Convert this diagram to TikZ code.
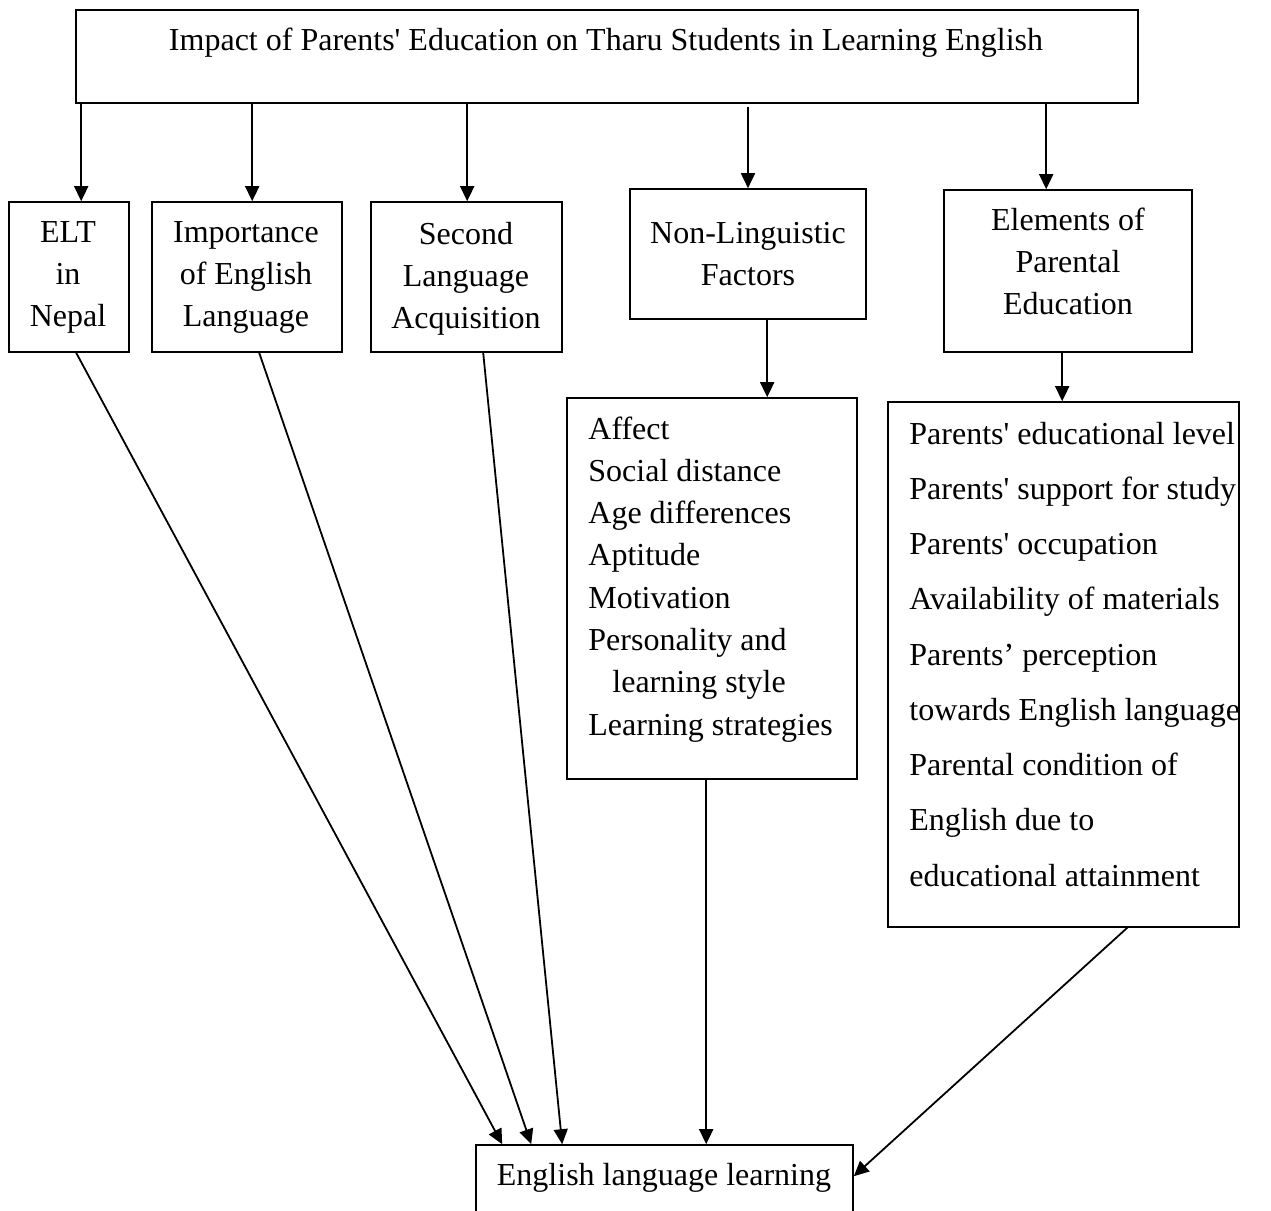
\documentclass[tikz,border=0pt]{standalone}
\usepackage{fontspec}
\setmainfont{Liberation Serif}[Ligatures=TeXOff]
\usetikzlibrary{arrows.meta,fit}
\begin{document}
\begin{tikzpicture}[x=0.5pt,y=-0.5pt,
  box/.style={draw, line width=0.8pt, inner sep=0pt},
  txt/.style={inner sep=0pt, align=center, font=\fontsize{16}{21}\selectfont},
  ltxt/.style={inner sep=0pt, anchor=base west, font=\fontsize{16}{21}\selectfont},
  arr/.style={-{Triangle[length=7.5pt,width=7pt]}, line width=0.9pt}]
\useasboundingbox (0,0) rectangle (1271,1211);
\fill[white] (0,0) rectangle (1271,1211);
\clip (0,0) rectangle (1271,1211);

% boxes
\node[box, fit={(76,10) (1138,103)}] (top) {};
\node[box, fit={(9,202) (129,352)}] (elt) {};
\node[box, fit={(152,202) (342,352)}] (imp) {};
\node[box, fit={(371,202) (562,352)}] (sla) {};
\node[box, fit={(630,189) (866,319)}] (nl) {};
\node[box, fit={(944,190) (1192,352)}] (epe) {};
\node[box, fit={(567,398) (857,779)}] (nll) {};
\node[box, fit={(888,402) (1239,927)}] (epl) {};
\node[box, fit={(476,1145) (853,1240)}] (bot) {};

% texts
\node[txt] (ttop) at (606,43) {Impact of Parents' Education on Tharu Students in Learning English};
\node[txt] (telt) at (68,277) {ELT\\in\\Nepal};
\node[txt] (timp) at (246,277) {Importance\\of English\\Language};
\node[txt] (tsla) at (466,279) {Second\\Language\\Acquisition};
\node[txt] (tnl) at (748,254) {Non-Linguistic\\Factors};
\node[txt] (tepe) at (1068,261) {Elements of\\Parental\\Education};
\node[txt] (tbot) at (664,1178) {English language learning};

\foreach \t [count=\i] in {Affect, Social distance, Age differences, Aptitude, Motivation, Personality and, \hspace{12pt}learning style, Learning strategies}
  \node[ltxt] (nl\i) at (588,{439+42.3*(\i-1)}) {\t};
\foreach \t [count=\i] in {Parents' educational level, Parents' support for study, Parents' occupation, Availability of materials, Parents’ perception, towards English language, Parental condition of, English due to, educational attainment}
  \node[ltxt] (ep\i) at (909,{444+55.25*(\i-1)}) {\t};

% top arrows
\coordinate (a1) at ([xshift=36.5pt]elt.north west);
\coordinate (a2) at ([xshift=50.5pt]imp.north west);
\coordinate (a3) at ([xshift=48.5pt]sla.north west);
\coordinate (a4) at (nl.north);
\coordinate (a5) at ([xshift=51.5pt]epe.north west);
\draw[arr] (top.south -| a1) -- (a1);
\draw[arr] (top.south -| a2) -- (a2);
\draw[arr] (top.south -| a3) -- (a3);
\draw[arr] ([yshift=-1.5pt]top.south -| a4) -- (a4);
\draw[arr] (top.south -| a5) -- (a5);

% to lists
\coordinate (b1) at ([xshift=69pt]nl.south west);
\draw[arr] (b1) -- (nll.north -| b1);
\coordinate (b2) at ([xshift=59.5pt]epe.south west);
\draw[arr] (b2) -- (epl.north -| b2);

% to bottom
\draw[arr] ([xshift=34pt]elt.south west) -- ([xshift=13.5pt]bot.north west);
\draw[arr] ([xshift=54pt]imp.south west) -- ([xshift=28pt]bot.north west);
\draw[arr] ([xshift=56.5pt]sla.south west) -- ([xshift=43.5pt]bot.north west);
\draw[arr] ([xshift=70pt]nll.south west) -- ([xshift=115.5pt]bot.north west);
\draw[arr] ([xshift=120pt]epl.south west) -- ([yshift=-16pt]bot.north east);
\end{tikzpicture}
\end{document}
